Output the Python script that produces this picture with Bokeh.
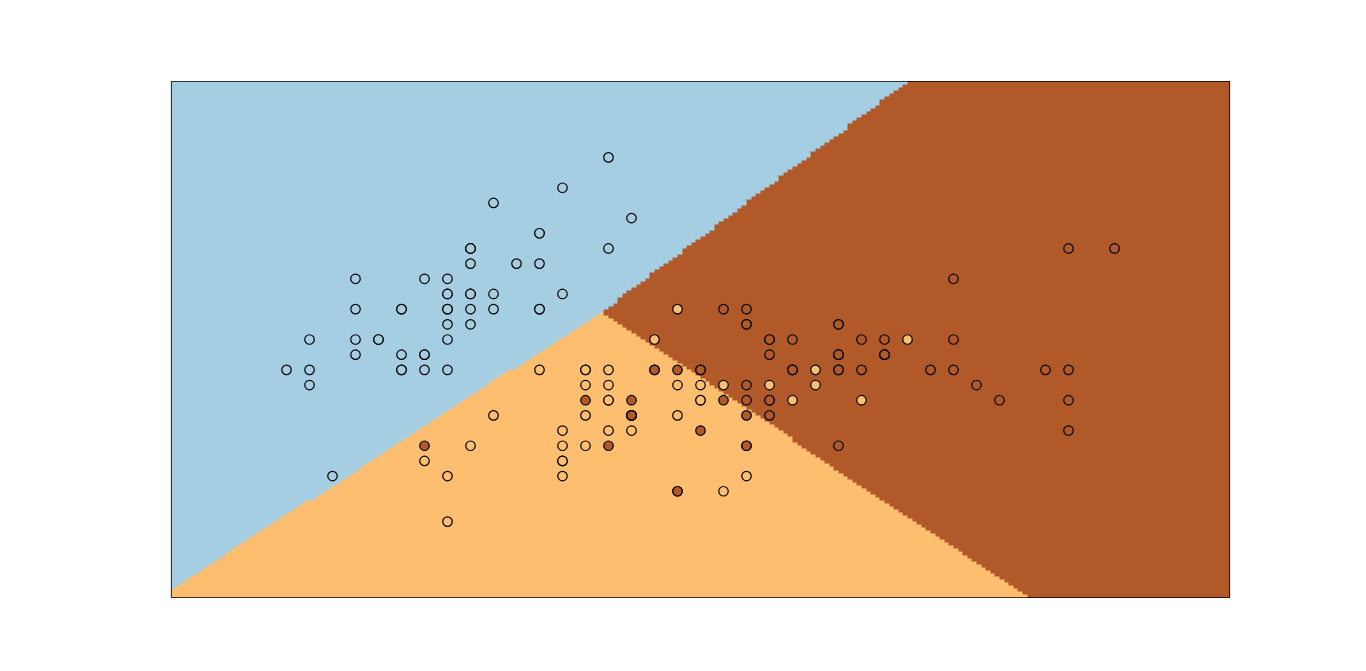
import numpy as np
from bokeh.plotting import figure
from bokeh.models import Range1d
from bokeh.embed import file_html
from bokeh.resources import INLINE

# Iris sepal length / sepal width and true class labels
sepal_length = [5.1,4.9,4.7,4.6,5.0,5.4,4.6,5.0,4.4,4.9,5.4,4.8,4.8,4.3,5.8,5.7,5.4,5.1,5.7,5.1,
                5.4,5.1,4.6,5.1,4.8,5.0,5.0,5.2,5.2,4.7,4.8,5.4,5.2,5.5,4.9,5.0,5.5,4.9,4.4,5.1,
                5.0,4.5,4.4,5.0,5.1,4.8,5.1,4.6,5.3,5.0,
                7.0,6.4,6.9,5.5,6.5,5.7,6.3,4.9,6.6,5.2,5.0,5.9,6.0,6.1,5.6,6.7,5.6,5.8,6.2,5.6,
                5.9,6.1,6.3,6.1,6.4,6.6,6.8,6.7,6.0,5.7,5.5,5.5,5.8,6.0,5.4,6.0,6.7,6.3,5.6,5.5,
                5.5,6.1,5.8,5.0,5.6,5.7,5.7,6.2,5.1,5.7,
                6.3,5.8,7.1,6.3,6.5,7.6,4.9,7.3,6.7,7.2,6.5,6.4,6.8,5.7,5.8,6.4,6.5,7.7,7.7,6.0,
                6.9,5.6,7.7,6.3,6.7,7.2,6.2,6.1,6.4,7.2,7.4,7.9,6.4,6.3,6.1,7.7,6.3,6.4,6.0,6.9,
                6.7,6.9,5.8,6.8,6.7,6.7,6.3,6.5,6.2,5.9]
sepal_width = [3.5,3.0,3.2,3.1,3.6,3.9,3.4,3.4,2.9,3.1,3.7,3.4,3.0,3.0,4.0,4.4,3.9,3.5,3.8,3.8,
               3.4,3.7,3.6,3.3,3.4,3.0,3.4,3.5,3.4,3.2,3.1,3.4,4.1,4.2,3.1,3.2,3.5,3.6,3.0,3.4,
               3.5,2.3,3.2,3.5,3.8,3.0,3.8,3.2,3.7,3.3,
               3.2,3.2,3.1,2.3,2.8,2.8,3.3,2.4,2.9,2.7,2.0,3.0,2.2,2.9,2.9,3.1,3.0,2.7,2.2,2.5,
               3.2,2.8,2.5,2.8,2.9,3.0,2.8,3.0,2.9,2.6,2.4,2.4,2.7,2.7,3.0,3.4,3.1,2.3,3.0,2.5,
               2.6,3.0,2.6,2.3,2.7,3.0,2.9,2.9,2.5,2.8,
               3.3,2.7,3.0,2.9,3.0,3.0,2.5,2.9,2.5,3.6,3.2,2.7,3.0,2.5,2.8,3.2,3.0,3.8,2.6,2.2,
               3.2,2.8,2.8,2.7,3.3,3.2,2.8,3.0,2.8,3.0,2.8,3.8,2.8,2.8,2.6,3.0,3.4,3.1,3.0,3.1,
               3.1,3.1,2.7,3.2,3.3,3.0,2.5,3.0,3.4,3.0]
species = [0] * 50 + [1] * 50 + [2] * 50

# Linear decision functions (per class: x coef, y coef, intercept) read from the boundaries
coef_x = [0.0, 0.977, 1.054]
coef_y = [0.0, -1.0, -0.924]
intercept = [0.0, -2.159, -2.851]

palette = ["#a6cee3", "#fdbf6f", "#b15928"]

x_min, x_max = 3.8, 8.4
y_min, y_max = 1.5, 4.9
h = 0.02

xs = np.arange(x_min, x_max - h / 2, h)
ys = np.arange(y_min, y_max - h / 2, h)
xx, yy = np.meshgrid(xs, ys)
scores = np.stack([coef_x[k] * xx + coef_y[k] * yy + intercept[k] for k in range(3)])
Z = np.argmax(scores, axis=0)

rgb = np.array([[int(c[1:3], 16), int(c[3:5], 16), int(c[5:7], 16)] for c in palette], dtype=np.uint32)
up = 4
Zu = np.repeat(np.repeat(Z, up, axis=0), up, axis=1)
img = np.zeros(Zu.shape, dtype=np.uint32)
view = img.view(dtype=np.uint8).reshape(Zu.shape + (4,))
view[..., 0] = rgb[Zu, 0]
view[..., 1] = rgb[Zu, 1]
view[..., 2] = rgb[Zu, 2]
view[..., 3] = 255

p = figure(width=1350, height=650, output_backend="svg", toolbar_location=None,
           x_range=Range1d(x_min, x_max), y_range=Range1d(y_min, y_max),
           min_border_left=171, min_border_right=121, min_border_top=81, min_border_bottom=53)
p.xaxis.visible = False
p.yaxis.visible = False
p.grid.visible = False
p.outline_line_color = "black"
p.outline_line_width = 1.2
p.background_fill_color = "white"
p.border_fill_color = "white"

p.image_rgba(image=[img], x=x_min, y=y_min, dw=len(xs) * h, dh=len(ys) * h)

colors = [palette[s] for s in species]
p.scatter(sepal_length, sepal_width, size=9.5, fill_color=colors, line_color="black", line_width=1.2)

open("out.html", "w").write(file_html(p, INLINE))
